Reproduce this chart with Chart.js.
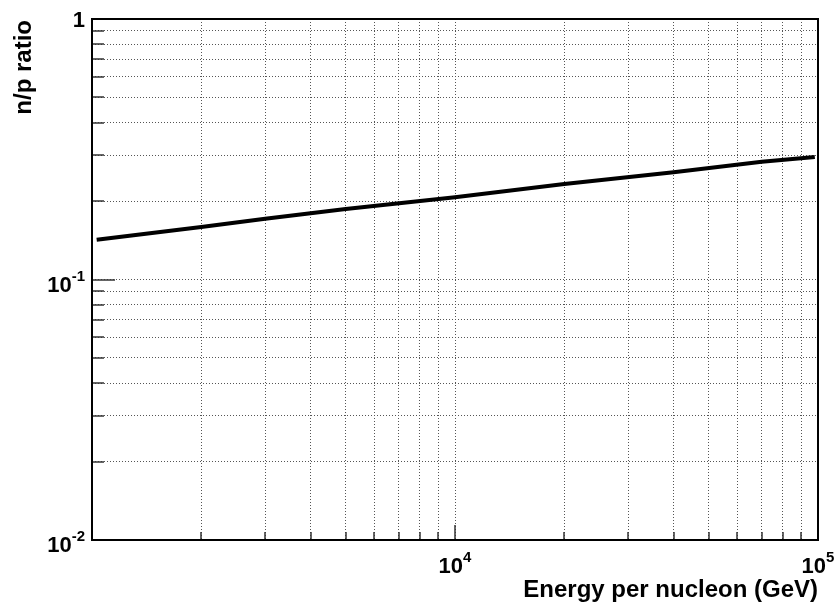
<!DOCTYPE html>
<html>
<head>
<meta charset="utf-8">
<script src="https://cdn.jsdelivr.net/npm/chart.js@4.4.1/dist/chart.umd.min.js"></script>
<style>
  body { margin: 0; background: #fff; }
  canvas { display: block; }
</style>
</head>
<body>
<canvas id="npChart" width="834" height="602"></canvas>
<script>
// values
const energy = [1030, 2000, 3000, 5000, 10000, 20000, 40000, 70000, 98000];
const ratio = [0.142, 0.159, 0.171, 0.1865, 0.207, 0.2326, 0.258, 0.283, 0.295];

// axis ranges and labelled ticks
const xMin = 1000, xMax = 100000;
const yMin = 0.01, yMax = 1;
const xLabelVals = [10000, 100000];
const xLabelExps = ['4', '5'];
const yLabelVals = [0.01, 0.1, 1];
const yLabelBase = ['10', '10', '1'];
const yLabelExps = ['-2', '-1', ''];

const xTitle = 'Energy per nucleon (GeV)';
const yTitle = 'n/p ratio';

// grid at 1..9 x 10^n inside the range
function decadeTicks(min, max) {
    var out = [];
    for (var e = Math.floor(Math.log10(min)); e <= Math.ceil(Math.log10(max)); e++) {
        for (var s = 1; s <= 9; s++) {
            var v = s * Math.pow(10, e);
            if (v >= min * 0.999 && v <= max * 1.001) out.push(v);
        }
    }
    return out;
}
const xGrid = decadeTicks(xMin, xMax);
const yGrid = decadeTicks(yMin, yMax);

const FONT = '"Liberation Sans", Arial, Helvetica, sans-serif';

function isMajor(v) {
    var l = Math.log10(v);
    return Math.abs(l - Math.round(l)) < 1e-6;
}

// draws a "10^n" style label, right aligned at x or centred at x
function drawPow(ctx, base, exp, x, y, align) {
    ctx.font = 'bold 22px ' + FONT;
    var wb = ctx.measureText(base).width;
    ctx.font = 'bold 15px ' + FONT;
    var we = exp ? ctx.measureText(exp).width : 0;
    var total = wb + we;
    var x0 = align === 'right' ? x - total : x - total / 2;
    ctx.textAlign = 'left';
    ctx.textBaseline = 'alphabetic';
    ctx.font = 'bold 22px ' + FONT;
    ctx.fillText(base, x0, y);
    if (exp) {
        ctx.font = 'bold 15px ' + FONT;
        ctx.fillText(exp, x0 + wb, y - 11);
    }
}

const rootStyle = {
    id: 'rootStyle',
    afterDatasetsDraw(chart) {
        const ctx = chart.ctx;
        const a = chart.chartArea;
        const xs = chart.scales.x;
        const ys = chart.scales.y;
        ctx.save();

        // inner tick marks
        ctx.strokeStyle = '#333';
        ctx.lineWidth = 1.5;
        ctx.beginPath();
        yGrid.forEach(function (v) {
            var py = Math.round(ys.getPixelForValue(v));
            var len = isMajor(v) ? 23 : 12;
            ctx.moveTo(a.left, py);
            ctx.lineTo(a.left + len, py);
        });
        xGrid.forEach(function (v) {
            var px = Math.round(xs.getPixelForValue(v));
            var len = isMajor(v) ? 15 : 8;
            ctx.moveTo(px, a.bottom);
            ctx.lineTo(px, a.bottom - len);
        });
        ctx.stroke();

        // frame
        ctx.strokeStyle = '#000';
        ctx.lineWidth = 2;
        ctx.strokeRect(a.left, a.top, a.right - a.left, a.bottom - a.top);

        // tick labels
        ctx.fillStyle = '#000';
        yLabelVals.forEach(function (v, i) {
            var py = ys.getPixelForValue(v);
            var off = yLabelExps[i] ? 12 : 8;
            drawPow(ctx, yLabelBase[i], yLabelExps[i], a.left - 7, py + off, 'right');
        });
        xLabelVals.forEach(function (v, i) {
            var px = xs.getPixelForValue(v);
            drawPow(ctx, '10', xLabelExps[i], px, a.bottom + 33, 'center');
        });

        // axis titles
        ctx.font = 'bold 24px ' + FONT;
        ctx.textAlign = 'right';
        ctx.textBaseline = 'alphabetic';
        ctx.fillText(xTitle, a.right, 597);

        ctx.translate(31, a.top + 1);
        ctx.rotate(-Math.PI / 2);
        ctx.fillText(yTitle, 0, 0);
        ctx.restore();
    }
};

const ctx = document.getElementById('npChart').getContext('2d');
new Chart(ctx, {
    type: 'line',
    data: {
        datasets: [{
            label: 'n/p',
            data: energy.map(function (e, i) { return { x: e, y: ratio[i] }; }),
            borderColor: '#000',
            borderWidth: 4,
            pointRadius: 0,
            tension: 0,
            fill: false
        }]
    },
    options: {
        responsive: false,
        animation: false,
        layout: { padding: { top: 19, right: 16, left: 0, bottom: 0 } },
        plugins: {
            legend: { display: false },
            tooltip: { enabled: false }
        },
        scales: {
            x: {
                type: 'logarithmic',
                min: xMin,
                max: xMax,
                afterBuildTicks: function (s) { s.ticks = xGrid.map(function (v) { return { value: v }; }); },
                afterFit: function (s) { s.height = 62; },
                ticks: { display: false, autoSkip: false },
                grid: { color: '#555', lineWidth: 1, drawTicks: false, tickLength: 0 },
                border: { display: false, dash: [1, 2] }
            },
            y: {
                type: 'logarithmic',
                min: yMin,
                max: yMax,
                afterBuildTicks: function (s) { s.ticks = yGrid.map(function (v) { return { value: v }; }); },
                afterFit: function (s) { s.width = 92; },
                ticks: { display: false, autoSkip: false },
                grid: { color: '#555', lineWidth: 1, drawTicks: false, tickLength: 0 },
                border: { display: false, dash: [1, 2] }
            }
        }
    },
    plugins: [rootStyle]
});
</script>
</body>
</html>
